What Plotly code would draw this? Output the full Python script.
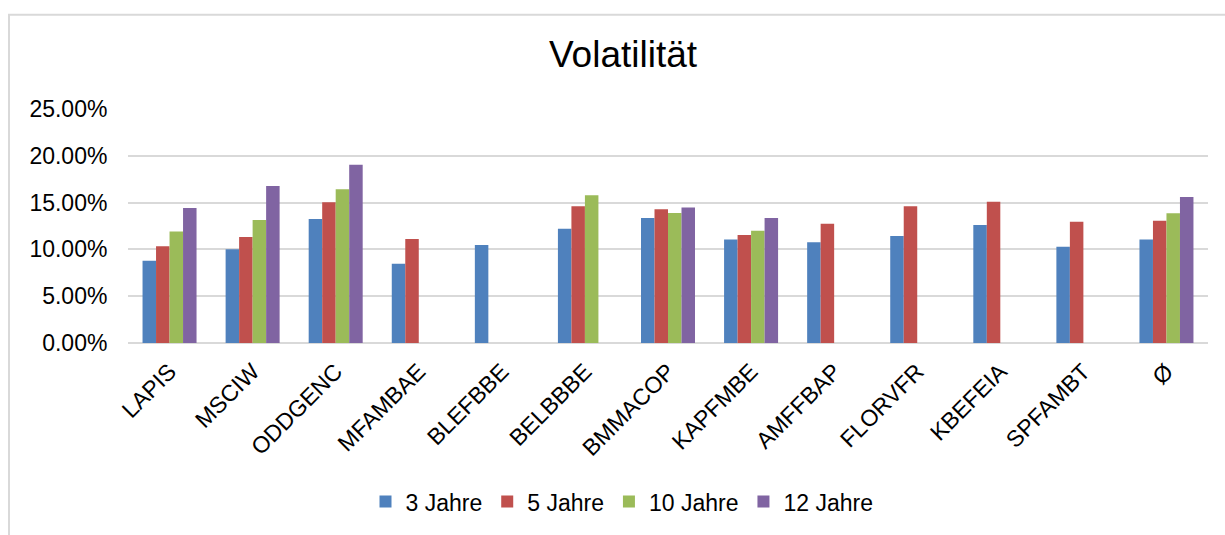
import plotly.graph_objects as go

categories = ["LAPIS", "MSCIW", "ODDGENC", "MFAMBAE", "BLEFBBE", "BELBBBE", "BMMACOP",
              "KAPFMBE", "AMFFBAP", "FLORVFR", "KBEFEIA", "SPFAMBT", "Ø"]
series_names = ["3 Jahre", "5 Jahre", "10 Jahre", "12 Jahre"]
vals_3 = [0.0878, 0.1002, 0.1324, 0.0846, 0.1048, 0.1221, 0.1335, 0.1105, 0.1077, 0.1144, 0.1260, 0.1027, 0.1105]
vals_5 = [0.1034, 0.1133, 0.1505, 0.1112, None, 0.1462, 0.1430, 0.1154, 0.1275, 0.1462, 0.1508, 0.1296, 0.1307]
vals_10 = [0.1190, 0.1314, 0.1643, None, None, 0.1579, 0.1388, 0.1200, None, None, None, None, 0.1385]
vals_12 = [0.1441, 0.1678, 0.1905, None, None, None, 0.1448, 0.1335, None, None, None, None, 0.1561]
colors = ["#4F81BD", "#C0504D", "#9BBB59", "#8064A2"]
y_ticks = [0, 0.05, 0.10, 0.15, 0.20, 0.25]

FONT = "Liberation Sans, Arial, sans-serif"

fig = go.Figure()
for name, vals, col in zip(series_names, [vals_3, vals_5, vals_10, vals_12], colors):
    fig.add_trace(go.Bar(x=categories, y=vals, name=name, marker_color=col,
                         marker_line_width=0))

W, H = 1225, 535
L, R, T, B = 128, 17, 109, 190
pw = W - L - R
ph = H - T - B

def px_to_paper_x(px):
    return (px - L) / pw

def py_to_paper_y(py):
    return (H - B - py) / ph

fig.update_layout(
    width=W, height=H,
    margin=dict(l=L, r=R, t=T, b=B),
    paper_bgcolor="white", plot_bgcolor="white",
    font=dict(family=FONT, size=23, color="#000000"),
    title=dict(text="Volatilität", x=623 / W, xanchor="center",
               y=1 - 54 / H, yanchor="middle",
               font=dict(family=FONT, size=37, color="#000000")),
    barmode="group", bargap=0.35, bargroupgap=0,
    showlegend=True,
    legend=dict(orientation="h", x=px_to_paper_x(622), xanchor="center",
                y=py_to_paper_y(505), yanchor="middle",
                font=dict(family=FONT, size=23, color="#000000"),
                itemwidth=30, traceorder="normal"),
    xaxis=dict(showgrid=False, showline=False, tickangle=-45,
               tickfont=dict(family=FONT, size=23, color="#000000"),
               ticks="outside", ticklen=5, tickcolor="rgba(0,0,0,0)"),
    yaxis=dict(range=[0, 0.25], tickvals=y_ticks, tickformat=".2%",
               showgrid=True, gridcolor="#d9d9d9", gridwidth=1.5,
               zeroline=True, zerolinecolor="#d9d9d9", zerolinewidth=1.5,
               showline=False,
               tickfont=dict(family=FONT, size=23, color="#000000"),
               ticks="outside", ticklen=15, tickcolor="rgba(0,0,0,0)"),
    shapes=[dict(type="rect", xref="paper", yref="paper",
                 x0=px_to_paper_x(9), x1=px_to_paper_x(1250),
                 y0=py_to_paper_y(570), y1=py_to_paper_y(14),
                 line=dict(color="#d9d9d9", width=2), fillcolor="rgba(0,0,0,0)",
                 layer="below")],
)

fig.write_html(
    "out.html",
    config={"displayModeBar": False},
    post_script="document.body.style.margin='0';document.body.style.overflow='hidden';",
)
